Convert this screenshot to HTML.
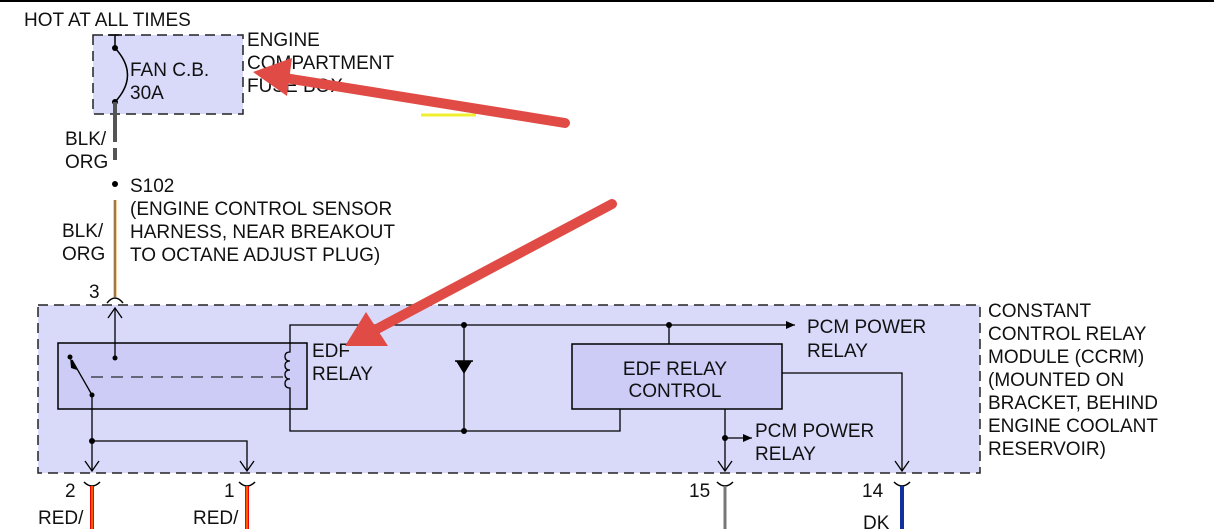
<!DOCTYPE html>
<html><head><meta charset="utf-8"><style>
html,body{margin:0;padding:0;background:#fff}
svg{display:block}
text{font-family:"Liberation Sans",Arial,sans-serif;font-size:19px;fill:#111}
</style></head><body>
<svg width="1214" height="529" viewBox="0 0 1214 529" xmlns="http://www.w3.org/2000/svg">
<defs>
<marker id="ah" markerWidth="10" markerHeight="10" refX="9" refY="5" orient="auto" markerUnits="userSpaceOnUse"><path d="M0,1 L9,5 L0,9 Z" fill="#000"/></marker>
</defs>
<line x1="0" y1="1" x2="1214" y2="1" stroke="#000" stroke-width="2"/>
<text x="24" y="26">HOT AT ALL TIMES</text>
<rect x="93" y="35" width="150" height="79" fill="#d9d9fa" stroke="#222" stroke-width="1.5" stroke-dasharray="10,6"/>
<line x1="115" y1="35" x2="115" y2="48" stroke="#000" stroke-width="1.5"/>
<line x1="108" y1="35" x2="122" y2="35" stroke="#000" stroke-width="1.5"/>
<path d="M115,48 Q140,75 115,102" fill="none" stroke="#000" stroke-width="1.5"/>
<circle cx="115" cy="48" r="3"/><circle cx="115" cy="102" r="3"/>
<text x="130" y="76">FAN C.B.</text><text x="130" y="99">30A</text>
<text x="247" y="46">ENGINE</text><text x="247" y="69">COMPARTMENT</text><text x="247" y="92">FUSE BOX</text>
<line x1="115" y1="102" x2="115" y2="130" stroke="#555" stroke-width="4"/>
<line x1="115" y1="130" x2="115" y2="165" stroke="#555" stroke-width="4" stroke-dasharray="12,6"/>
<text x="65" y="145">BLK/</text><text x="65" y="168">ORG</text>
<circle cx="115" cy="184" r="3"/>
<text x="130" y="192">S102</text>
<text x="130" y="215">(ENGINE CONTROL SENSOR</text>
<text x="130" y="238">HARNESS, NEAR BREAKOUT</text>
<text x="130" y="261">TO OCTANE ADJUST PLUG)</text>
<line x1="115" y1="200" x2="115" y2="297" stroke="#e8a040" stroke-width="3"/>
<line x1="115" y1="200" x2="115" y2="297" stroke="#555" stroke-width="1"/>
<text x="62" y="237">BLK/</text><text x="62" y="260">ORG</text>
<text x="89" y="298">3</text>
<path d="M107,303 Q115,293 123,303" fill="none" stroke="#000" stroke-width="1.5"/>
<rect x="38" y="305" width="942" height="168" fill="#d9d9fa" stroke="#222" stroke-width="1.5" stroke-dasharray="10,6"/>
<rect x="58" y="343" width="249" height="66" fill="#ccccf6" stroke="#000" stroke-width="1.5"/>
<line x1="115" y1="358" x2="115" y2="309" stroke="#000" stroke-width="1.3"/>
<path d="M108,318 L115,308 L122,318" fill="none" stroke="#000" stroke-width="1.3"/>
<circle cx="115" cy="358" r="2.5"/>
<circle cx="70" cy="357" r="2.5"/>
<line x1="92" y1="395" x2="72" y2="360" stroke="#000" stroke-width="1.3"/>
<path d="M70,357 L77,370 L71,368 Z" fill="#000"/>
<circle cx="92" cy="395" r="2.5"/>
<line x1="91" y1="377" x2="287" y2="377" stroke="#000" stroke-width="1" stroke-dasharray="12,8"/>
<path d="M290,343 L290,352 q-5,0 -5,4.5 q0,4.5 5,4.5 q-5,0 -5,4.5 q0,4.5 5,4.5 q-5,0 -5,4.5 q0,4.5 5,4.5 q-5,0 -5,4.5 q0,4.5 5,4.5 L290,409" fill="none" stroke="#000" stroke-width="1.3"/>
<polyline points="290,343 290,325 795,325" fill="none" stroke="#000" stroke-width="1.3" marker-end="url(#ah)"/>
<text x="807" y="333">PCM POWER</text><text x="807" y="357">RELAY</text>
<polyline points="290,409 290,431 620,431 620,409" fill="none" stroke="#000" stroke-width="1.3"/>
<line x1="464" y1="325" x2="464" y2="431" stroke="#000" stroke-width="1.3"/>
<path d="M456,361 L472,361 L464,374 Z" fill="#000"/><line x1="455" y1="361" x2="473" y2="361" stroke="#000" stroke-width="1.5"/>
<circle cx="464" cy="325" r="3"/><circle cx="464" cy="431" r="3"/>
<text x="312" y="357">EDF</text><text x="312" y="380">RELAY</text>
<rect x="572" y="344" width="210" height="65" fill="#ccccf6" stroke="#000" stroke-width="1.5"/>
<line x1="669" y1="325" x2="669" y2="344" stroke="#000" stroke-width="1.3"/><circle cx="669" cy="325" r="3"/>
<text x="675" y="375" text-anchor="middle">EDF RELAY</text><text x="675" y="397" text-anchor="middle">CONTROL</text>
<polyline points="782,373 902,373 902,471" fill="none" stroke="#000" stroke-width="1.3"/>
<path d="M895,461 L902,471 L909,461" fill="none" stroke="#000" stroke-width="1.3"/>
<line x1="725" y1="409" x2="725" y2="471" stroke="#000" stroke-width="1.3"/>
<path d="M718,461 L725,471 L732,461" fill="none" stroke="#000" stroke-width="1.3"/>
<circle cx="725" cy="438" r="3"/>
<line x1="725" y1="438" x2="752" y2="438" stroke="#000" stroke-width="1.3" marker-end="url(#ah)"/>
<text x="755" y="437">PCM POWER</text><text x="755" y="460">RELAY</text>
<line x1="92" y1="395" x2="92" y2="471" stroke="#000" stroke-width="1.3"/>
<path d="M85,461 L92,471 L99,461" fill="none" stroke="#000" stroke-width="1.3"/>
<circle cx="92" cy="441" r="3"/>
<polyline points="92,441 247,441 247,471" fill="none" stroke="#000" stroke-width="1.3"/>
<path d="M240,461 L247,471 L254,461" fill="none" stroke="#000" stroke-width="1.3"/>
<text x="988" y="317">CONSTANT</text><text x="988" y="340">CONTROL RELAY</text><text x="988" y="363">MODULE (CCRM)</text>
<text x="988" y="386">(MOUNTED ON</text><text x="988" y="409">BRACKET, BEHIND</text><text x="988" y="432">ENGINE COOLANT</text><text x="988" y="455">RESERVOIR)</text>
<g fill="none" stroke="#000" stroke-width="1.5">
<path d="M84,482 Q92,490 100,482"/><path d="M239,482 Q247,490 255,482"/><path d="M717,482 Q725,490 733,482"/><path d="M894,482 Q902,490 910,482"/>
</g>
<line x1="92" y1="486" x2="92" y2="529" stroke="#e00" stroke-width="4"/><line x1="92" y1="486" x2="92" y2="529" stroke="#f5c000" stroke-width="1"/>
<line x1="247" y1="486" x2="247" y2="529" stroke="#e00" stroke-width="4"/><line x1="247" y1="486" x2="247" y2="529" stroke="#f5c000" stroke-width="1"/>
<line x1="725" y1="486" x2="725" y2="529" stroke="#777" stroke-width="3"/>
<line x1="902" y1="486" x2="902" y2="529" stroke="#1030a0" stroke-width="4"/>
<text x="65" y="497">2</text><text x="224" y="497">1</text><text x="689" y="497">15</text><text x="862" y="497">14</text>
<text x="38" y="524">RED/</text><text x="193" y="524">RED/</text><text x="863" y="529">DK</text>
<line x1="421" y1="115" x2="476" y2="115" stroke="#f0f030" stroke-width="3"/>
<g stroke="#e04c45" stroke-width="10" stroke-linecap="round" fill="#e04c45">
<line x1="565" y1="123" x2="285" y2="78"/>
<line x1="612" y1="204" x2="375" y2="330"/>
</g>
<path d="M253,72 L292,58 L287,96 Z" fill="#e04c45"/>
<path d="M345,346 L366,312 L388,346 Z" fill="#e04c45"/>
</svg>
</body></html>
